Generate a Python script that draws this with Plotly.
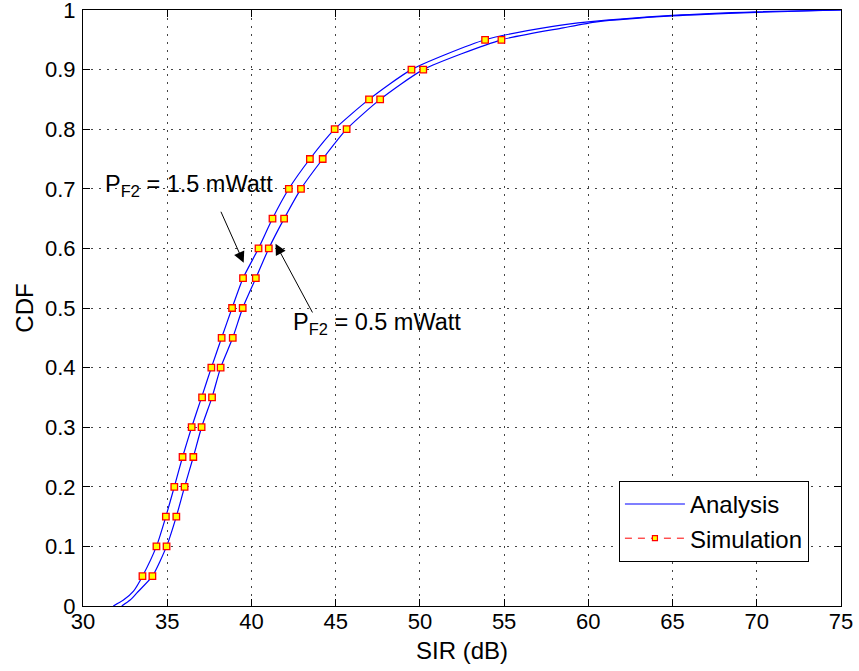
import plotly.graph_objects as go

# ---- data ----
# Analysis curves (SIR in dB vs CDF)
ana_cdf_15 = [0.0, 0.01, 0.025, 0.05, 0.10, 0.15, 0.20, 0.25, 0.30, 0.35, 0.40, 0.45, 0.50,
              0.55, 0.60, 0.65, 0.70, 0.75, 0.80, 0.85, 0.90, 0.95, 0.972, 0.98, 0.991, 0.997, 1.0]
ana_sir_15 = [31.8, 32.4, 33.0, 33.53, 34.36, 34.92, 35.42, 35.91, 36.45, 37.04, 37.62, 38.23, 38.85,
              39.50, 40.42, 41.25, 42.22, 43.47, 44.94, 46.98, 49.50, 53.87, 57.8, 60.0, 65.0, 70.0, 75.0]

ana_cdf_05 = [0.0, 0.01, 0.022, 0.05, 0.10, 0.15, 0.20, 0.25, 0.30, 0.35, 0.40, 0.45, 0.50,
              0.55, 0.60, 0.65, 0.70, 0.75, 0.80, 0.85, 0.90, 0.95, 0.970, 0.98, 0.990, 0.996, 1.0]
ana_sir_05 = [32.3, 32.8, 33.2, 34.12, 34.96, 35.54, 36.03, 36.55, 37.04, 37.66, 38.17, 38.89, 39.48,
              40.26, 41.03, 41.94, 42.94, 44.23, 45.65, 47.64, 50.20, 54.84, 58.5, 60.5, 65.0, 70.0, 75.0]

# Simulation points
sim_cdf = [0.05, 0.10, 0.15, 0.20, 0.25, 0.30, 0.35, 0.40, 0.45, 0.50,
           0.55, 0.60, 0.65, 0.70, 0.75, 0.80, 0.85, 0.90, 0.95]
sim_sir_15 = [33.53, 34.36, 34.92, 35.42, 35.91, 36.45, 37.07, 37.62, 38.23, 38.85,
              39.50, 40.42, 41.25, 42.22, 43.47, 44.94, 46.98, 49.50, 53.87]
sim_sir_05 = [34.12, 34.96, 35.54, 36.03, 36.55, 37.04, 37.66, 38.17, 38.89, 39.48,
              40.26, 41.03, 41.94, 42.94, 44.23, 45.65, 47.64, 50.20, 54.84]

x_ticks = [30, 35, 40, 45, 50, 55, 60, 65, 70, 75]
y_ticks = [0, 0.1, 0.2, 0.3, 0.4, 0.5, 0.6, 0.7, 0.8, 0.9, 1]

FONT = "Liberation Sans, Arial, Helvetica, sans-serif"
BLUE = "#0000FF"

fig = go.Figure()

fig.add_trace(go.Scatter(x=ana_sir_15, y=ana_cdf_15, mode="lines", name="Analysis",
                         line=dict(color=BLUE, width=1.2, shape="spline", smoothing=0.6),
                         showlegend=True, legendrank=1))
fig.add_trace(go.Scatter(x=ana_sir_05, y=ana_cdf_05, mode="lines", name="Analysis",
                         line=dict(color=BLUE, width=1.2, shape="spline", smoothing=0.6),
                         showlegend=False))

mk = dict(symbol="square", size=6.5, color="#FFFF00", line=dict(color="#FF0000", width=1.3))
fig.add_trace(go.Scatter(x=sim_sir_15, y=sim_cdf, mode="markers", marker=mk, showlegend=False))
fig.add_trace(go.Scatter(x=sim_sir_05, y=sim_cdf, mode="markers", marker=mk, showlegend=False))
# legend entry for simulation
fig.add_trace(go.Scatter(x=[None], y=[None], mode="lines+markers", name="Simulation",
                         line=dict(color="#FF0000", width=1, dash="7px,6px"),
                         marker=dict(symbol="square", size=5, color="#FFFF00",
                                     line=dict(color="#FF0000", width=1.2)),
                         legendrank=2))

# arrows
fig.add_annotation(x=39.54, y=0.576, ax=38.15, ay=0.664, xref="x", yref="y", axref="x", ayref="y",
                   text="", showarrow=True, arrowhead=2, arrowsize=2.2, arrowwidth=1.0,
                   arrowcolor="black")
fig.add_annotation(x=41.43, y=0.608, ax=43.67, ay=0.49, xref="x", yref="y", axref="x", ayref="y",
                   text="", showarrow=True, arrowhead=2, arrowsize=2.2, arrowwidth=1.0,
                   arrowcolor="black")
# labels
fig.add_annotation(x=31.2, y=0.706, xref="x", yref="y", xanchor="left", yanchor="middle",
                   text="P<sub>F2</sub> = 1.5 mWatt", showarrow=False,
                   font=dict(family=FONT, size=23.5, color="black"))
fig.add_annotation(x=42.35, y=0.474, xref="x", yref="y", xanchor="left", yanchor="middle",
                   text="P<sub>F2</sub> = 0.5 mWatt", showarrow=False,
                   font=dict(family=FONT, size=23.5, color="black"))
# x axis title (placed as annotation for exact position)
fig.add_annotation(x=0.5, y=-0.075, xref="paper", yref="paper", xanchor="center", yanchor="middle",
                   text="SIR (dB)", showarrow=False,
                   font=dict(family=FONT, size=24, color="black"))

axis_common = dict(showline=True, linecolor="black", linewidth=1, mirror="ticks",
                   ticks="inside", ticklen=7, tickcolor="black", tickwidth=1,
                   showgrid=True, gridcolor="#444444", gridwidth=1, griddash="1.5px,6.5px",
                   zeroline=False, ticklabeloverflow="allow",
                   tickfont=dict(family=FONT, size=22, color="black"))

fig.update_xaxes(range=[30, 75], tickvals=x_ticks, ticktext=[str(v) for v in x_ticks],
                 ticklabelstandoff=-4, **axis_common)
fig.update_yaxes(range=[0, 1], tickvals=y_ticks, ticktext=[("%g" % v) for v in y_ticks],
                 title=dict(text="CDF", font=dict(family=FONT, size=24, color="black"), standoff=4),
                 ticklabelstandoff=2, **axis_common)

fig.update_layout(
    width=859, height=671,
    margin=dict(l=83, r=18, t=10, b=65, autoexpand=False),
    plot_bgcolor="white", paper_bgcolor="white",
    font=dict(family=FONT, color="black"),
    legend=dict(x=0.9577, y=0.074, xanchor="right", yanchor="bottom",
                bgcolor="white", bordercolor="black", borderwidth=1,
                font=dict(family=FONT, size=24, color="black"),
                tracegroupgap=0, itemwidth=60),
)

fig.write_html("out.html")
